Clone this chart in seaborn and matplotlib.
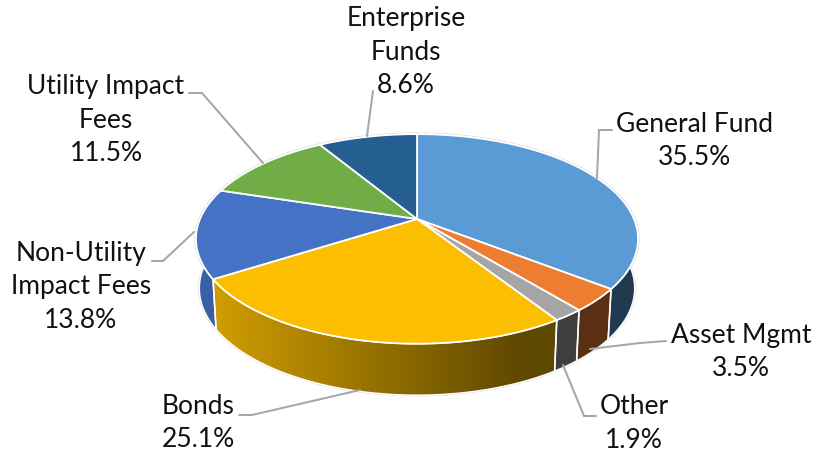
import numpy as np
import matplotlib
matplotlib.use("Agg")
import matplotlib.pyplot as plt
from matplotlib.patches import Polygon
import seaborn as sns

# Funding sources, clockwise from twelve o'clock
categories = ["General Fund", "Asset Mgmt", "Other", "Bonds",
              "Non-Utility\nImpact Fees", "Utility Impact\nFees", "Enterprise\nFunds"]
shares = [35.5, 3.5, 1.9, 25.1, 13.8, 11.5, 8.6]
slice_colors = ["#5B9BD5", "#ED7D31", "#A5A5A5", "#FBBE00", "#4472C4", "#70AD47", "#255E91"]

# Where each label sits and the path of its leader line
label_centers = [(694, 141), (741, 352), (634, 423.5), (198, 423), (81, 287), (106, 120), (406, 52)]
leader_paths = [
    [(612, 131), (599, 131), (597, 179)],
    [(666, 342), (640, 344), (590, 350)],
    [(596, 417), (584, 417), (563, 366)],
    [(239, 416), (252, 416), (360, 391)],
    [(152, 262), (163, 262), (194, 233)],
    [(189, 94), (202, 94), (263, 164)],
    [(373, 92), (367, 137)],
]

sns.set_theme(style="white")
plt.rcParams["font.family"] = ["Lato", "DejaVu Sans"]

# Perspective model of the disc
CX, CY = 417.0, 220.0
HALF_WIDTH, HALF_DEPTH, TILT = 217.0, 101.0, 0.19
WALL_DROP, WALL_SX, WALL_SY = 49.0, 0.985, 1.02


def top_rim(theta):
    u, f = np.sin(theta), -np.cos(theta)
    w = 1 - TILT * f
    return np.column_stack([CX + HALF_WIDTH * u / w, CY + HALF_DEPTH * f / w])


def bottom_rim(theta):
    p = top_rim(theta)
    return np.column_stack([CX + (p[:, 0] - CX) * WALL_SX,
                            CY + WALL_DROP + (p[:, 1] - CY) * WALL_SY])


def side_shade(x):
    # Light falls from the left and the wall darkens towards the right
    return np.clip(0.85 - 0.47 * (x - 200) / 320, 0.38, 0.85)


fig = plt.figure(figsize=(8.13, 4.52), dpi=100)
ax = fig.add_axes([0, 0, 1, 1])

edges = np.radians(np.concatenate([[0], np.cumsum(shares)]) * 3.6)
edges[-1] = 2 * np.pi

# Faint outline of the whole solid
full = np.linspace(0, 2 * np.pi, 361)
ax.plot(*bottom_rim(full).T, color="#D4D4D4", lw=1.6, zorder=1)
ax.plot(*top_rim(full).T, color="#D4D4D4", lw=2.2, zorder=1)

grad_x = np.linspace(190, 650, 256)
for color, a, b in zip(slice_colors, edges[:-1], edges[1:]):
    t = np.linspace(a, b, max(int((b - a) * 90), 4))
    wall = np.vstack([top_rim(t), bottom_rim(t)[::-1]])
    base = np.array(matplotlib.colors.to_rgb(color))
    strip = side_shade(grad_x)[None, :, None] * base
    image = ax.imshow(strip, extent=(190, 650, 410, 120), aspect="auto",
                      interpolation="bilinear", zorder=2)
    clip = Polygon(wall, closed=True, transform=ax.transData)
    image.set_clip_path(clip)
    ax.add_patch(Polygon(wall, closed=True, fc="none", ec="white", lw=1.1, zorder=3))

for color, a, b in zip(slice_colors, edges[:-1], edges[1:]):
    t = np.linspace(a, b, max(int((b - a) * 90), 4))
    ax.add_patch(Polygon(np.vstack([[CX, CY], top_rim(t)]), closed=True,
                         fc=color, ec="white", lw=1.3, joinstyle="miter", zorder=4))

for path in leader_paths:
    ax.plot(*np.array(path).T, color="#A6A6A6", lw=1.45, solid_joinstyle="miter", zorder=5)

for name, value, (x, y) in zip(categories, shares, label_centers):
    ax.text(x, y, f"{name}\n{value}%", ha="center", va="center", fontsize=19,
            color="#111111", linespacing=1.43, zorder=6)

ax.set_xlim(0, 813)
ax.set_ylim(452, 0)
ax.axis("off")
fig.savefig("out.png", dpi=100, facecolor="white")
